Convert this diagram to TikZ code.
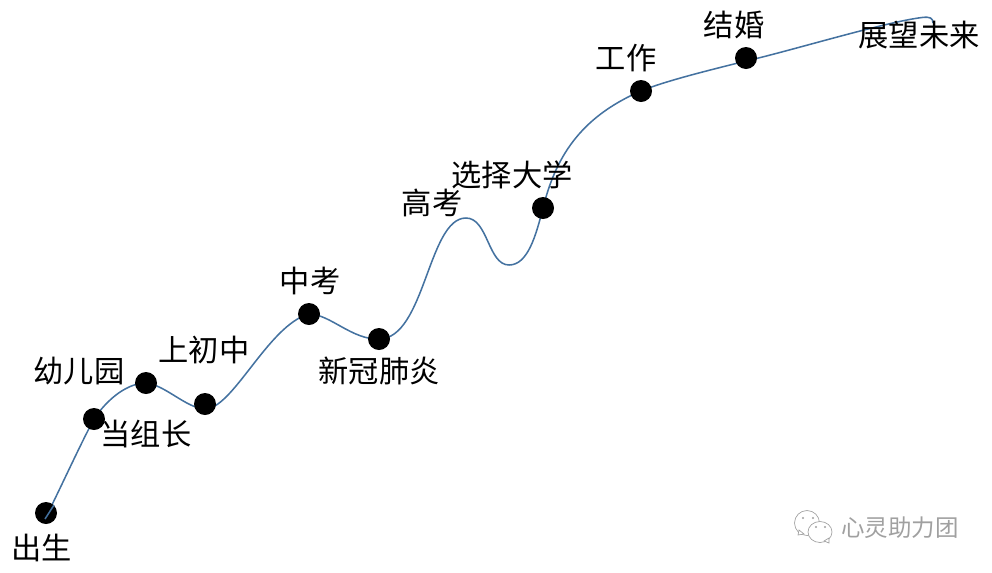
\documentclass[tikz,border=0pt]{standalone}
\usepackage{fontspec}
\usepackage{xcolor}
\usetikzlibrary{backgrounds}
\setmainfont{Noto Sans CJK SC}
\definecolor{curve}{RGB}{68,114,160}
\definecolor{mark}{RGB}{160,160,160}
\tikzset{
    dot/.style = {circle, fill=black, minimum size=16.5pt, inner sep=0pt},
    label/.style = {inner sep=0pt, font=\fontsize{22.7pt}{24pt}\selectfont, text=black},
    life/.style = {draw=curve, line width=1.15pt},
    bubble/.style = {draw=mark, fill=white, line width=0.5pt},
    eye/.style = {fill=mark}
}
\begin{document}
\begin{tikzpicture}[x=0.75pt, y=-0.75pt]
            \useasboundingbox (0,0) rectangle (992,572);
            \node[dot] (birth) at (46,513) {};
            \node[dot] (leader) at (94,419) {};
            \node[dot] (kinder) at (146,383) {};
            \node[dot] (junior) at (205,404) {};
            \node[dot] (exam) at (309,314) {};
            \node[dot] (covid) at (379,339) {};
            \node[dot] (college) at (543,208) {};
            \node[dot] (work) at (641,91) {};
            \node[dot] (marry) at (746,58) {};
            \coordinate (start) at (45,519);
            \coordinate (dip) at (509,265);
            \coordinate (peak) at (466,218);
            \coordinate (low) at (204,409);
            \coordinate (pass) at (746,61);
            \coordinate (future) at (922,17.5);
            \coordinate (tail) at (933,23);

            \begin{scope}[on background layer]
            \draw[life] (start) .. controls (62,485) and (80,445) .. (leader.center)
                .. controls (108,398) and (128,383) .. (kinder.center)
                .. controls (165,385) and (185,407) .. (low)
                .. controls (232,411) and (268,325) .. (exam.center)
                .. controls (330,314) and (352,340) .. (covid.center)
                .. controls (425,339) and (428,218) .. (peak)
                .. controls (488,218) and (488,265) .. (dip)
                .. controls (528,265) and (536,235) .. (college.center)
                .. controls (555,160) and (578,118) .. (work.center)
                .. controls (665,81) and (710,70) .. (pass)
                .. controls (790,51) and (885,22) .. (future)
                .. controls (930,16.5) and (933,18) .. (tail);
            \end{scope}
            \draw[life] (start) -- (birth.north east);

            \node[label] (lbirth) at (42,548) {出生};
            \node[label] (lleader) at (146,434) {当组长};
            \node[label] (lkinder) at (79,371) {幼儿园};
            \node[label] (ljunior) at (204,350) {上初中};
            \node[label] (lexam) at (310,281) {中考};
            \node[label] (lcovid) at (379,371) {新冠肺炎};
            \node[label] (lhigh) at (432,203) {高考};
            \node[label] (lcollege) at (512,175) {选择大学};
            \node[label] (lwork) at (626,58) {工作};
            \node[label] (lmarry) at (734,25) {结婚};
            \node[label] (lfuture) at (919,35) {展望未来};

            % watermark
            \draw[bubble] (807,523) ellipse (12.5 and 12.5);
            \draw[bubble] (798,535) -- (799,530) -- (804,534) -- cycle;
            \fill[eye] (803,518) circle (1.1) (813,518) circle (1.1);
            \draw[bubble] (820,532) ellipse (12 and 10.5);
            \draw[bubble] (829,543) -- (824,541) -- (829,538) -- cycle;
            \fill[eye] (816,527) circle (1.1) (825,527) circle (1.1);
            \node[inner sep=0pt, text=mark, font=\fontsize{17.6pt}{19pt}\selectfont] (brand) at (900,528) {心灵助力团};
        \end{tikzpicture}
\end{document}
